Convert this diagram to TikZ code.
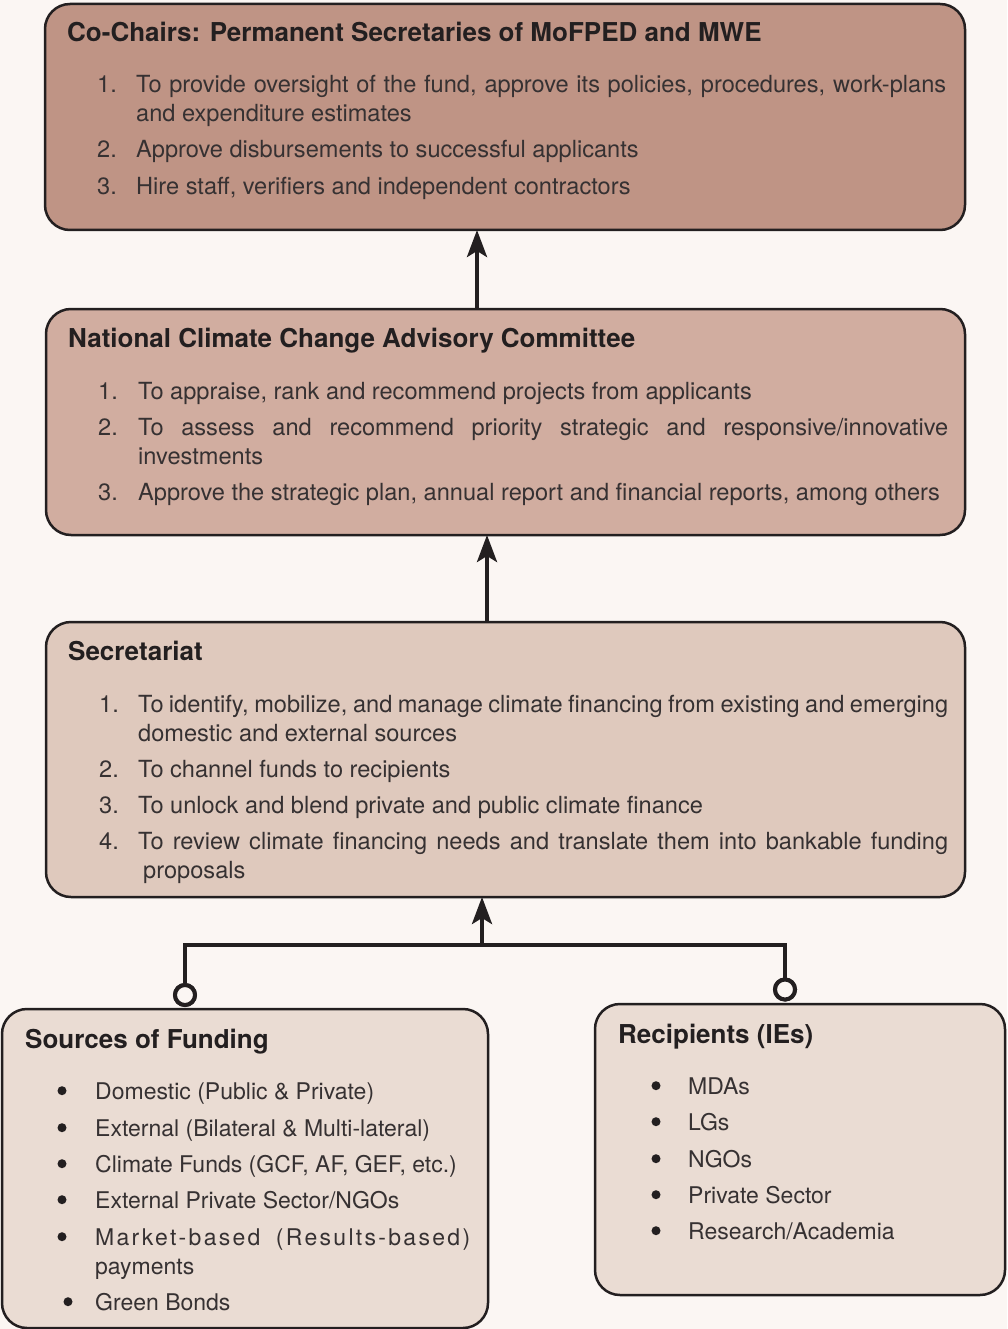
\documentclass[tikz,border=0pt]{standalone}
\usepackage{fontspec}
\setmainfont{TeX Gyre Heros}
\usetikzlibrary{arrows.meta}
\definecolor{bgc}{HTML}{FBF6F3}
\definecolor{fa}{HTML}{BF9485}
\definecolor{fb}{HTML}{D1ADA0}
\definecolor{fc}{HTML}{DFC9BD}
\definecolor{fd}{HTML}{EADCD3}
\definecolor{ink}{HTML}{231F20}
\definecolor{txt}{HTML}{363132}
\newcommand\bodyfont{\fontsize{23.6}{29}\selectfont}
\newcommand\smallbodyfont{\fontsize{23}{29}\selectfont}
\newcommand\headfont{\fontsize{26}{30}\selectfont\bfseries}
\tikzset{
 box/.style={draw=ink, line width=2.5pt, rounded corners=25pt, anchor=north west, inner sep=0pt, outer sep=0pt},
 head/.style={anchor=base west, inner sep=0pt, font=\headfont, text=ink},
 body/.style={anchor=base west, inner sep=0pt, font=\bodyfont, text=txt},
 lbody/.style={anchor=base west, inner sep=0pt, font=\smallbodyfont, text=txt},
 bul/.style={circle, fill=ink, minimum size=9pt, inner sep=0pt},
 arr/.style={draw=ink, line width=4pt, -{Stealth[length=27pt,width=20pt,inset=6pt]}},
 conn/.style={draw=ink, line width=4.5pt},
 circ/.style={circle, draw=ink, line width=4pt, fill=bgc, minimum size=20pt, inner sep=0pt},
}
\begin{document}
\begin{tikzpicture}[x=1pt,y=-1pt]
\fill[bgc] (0,0) rectangle (1007,1329);
\useasboundingbox (0,0) rectangle (1007,1329);
% boxes
\node[box, fill=fa, minimum width=920pt, minimum height=226pt] (b1) at (45,4) {};
\node[box, fill=fb, minimum width=919pt, minimum height=226pt] (b2) at (46,309) {};
\node[box, fill=fc, minimum width=919pt, minimum height=275pt] (b3) at (46,622) {};
\node[box, fill=fd, minimum width=486pt, minimum height=319pt] (b4) at (2,1009) {};
\node[box, fill=fd, minimum width=410pt, minimum height=291pt] (b5) at (595,1004) {};
% connectors
\coordinate (a1) at (477,0);
\coordinate (a2) at (487,0);
\coordinate (j) at (482,945);
\draw[arr] (b2.north -| a1) -- (b1.south -| a1);
\draw[arr] (b3.north -| a2) -- (b2.south -| a2);
\node[circ] (o1) at (185,995) {};
\node[circ] (o2) at (785,989.5) {};
\draw[conn] (o1.north) |- (j) -| (o2.north);
\draw[arr] (j) -- (j |- b3.south);
\node[circ] at (o1) {};
\node[circ] at (o2) {};
% box 1
\node[head] (h1) at (67,42) {Co-Chairs: Permanent Secretaries of MoFPED and MWE};
\node[body] (n11) at (97,93) {1.};
\node[body] (t11) at (136,93) {\parbox[t]{810pt}{To provide oversight of the fund, approve its policies, procedures, work-plans\linebreak and expenditure estimates}};
\node[body] (n12) at (97,158) {2.};
\node[body] (t12) at (136,158) {Approve disbursements to successful applicants};
\node[body] (n13) at (97,195) {3.};
\node[body] (t13) at (136,195) {Hire staff, verifiers and independent contractors};
% box 2
\node[head] (h2) at (68,347) {National Climate Change Advisory Committee};
\node[body] (n21) at (98,399) {1.};
\node[body] (t21) at (138,399) {To appraise, rank and recommend projects from applicants};
\node[body] (n22) at (98,435) {2.};
\node[body] (t22) at (138,435) {\parbox[t]{810pt}{To assess and recommend priority strategic and responsive/innovative\linebreak investments}};
\node[body] (n23) at (98,500) {3.};
\node[body] (t23) at (138,500) {Approve the strategic plan, annual report and financial reports, among others};
% box 3
\node[head] (h3) at (68,660) {Secretariat};
\node[body] (n31) at (99,712) {1.};
\node[body] (t31) at (138,712) {\parbox[t]{810pt}{To identify, mobilize, and manage climate financing from existing and emerging\linebreak domestic and external sources}};
\node[body] (n32) at (99,777) {2.};
\node[body] (t32) at (138,777) {To channel funds to recipients};
\node[body] (n33) at (99,813) {3.};
\node[body] (t33) at (138,813) {To unlock and blend private and public climate finance};
\node[body] (n34) at (99,849) {4.};
\node[body] (t34) at (138,849) {\parbox[t]{810pt}{To review climate financing needs and translate them into bankable funding\linebreak \hspace*{5pt}proposals}};
% box 4
\node[head] (h4) at (25,1048) {Sources of Funding};
\node[bul] (d41) at (62,1090.7) {};
\node[lbody] (t41) at (95,1099) {Domestic (Public \& Private)};
\node[bul] (d42) at (62,1127.7) {};
\node[lbody] (t42) at (95,1136) {External (Bilateral \& Multi-lateral)};
\node[bul] (d43) at (62,1163.7) {};
\node[lbody] (t43) at (95,1172) {Climate Funds (GCF, AF, GEF, etc.)};
\node[bul] (d44) at (62,1199.7) {};
\node[lbody] (t44) at (95,1208) {External Private Sector/NGOs};
\node[bul] (d45) at (62,1236.7) {};
\node[lbody] (t45) at (95,1245) {\parbox[t]{375pt}{{\addfontfeature{LetterSpace=10}Market-based\hfill(Results-based)}\\payments}};
\node[bul] (d46) at (68,1301.7) {};
\node[lbody] (t46) at (95,1310) {Green Bonds};
% box 5
\node[head] (h5) at (618,1043) {Recipients (IEs)};
\node[bul] (d51) at (656,1085.7) {};
\node[lbody] (t51) at (688,1094) {MDAs};
\node[bul] (d52) at (656,1121.7) {};
\node[lbody] (t52) at (688,1130) {LGs};
\node[bul] (d53) at (656,1158.7) {};
\node[lbody] (t53) at (688,1167) {NGOs};
\node[bul] (d54) at (656,1194.7) {};
\node[lbody] (t54) at (688,1203) {Private Sector};
\node[bul] (d55) at (656,1230.7) {};
\node[lbody] (t55) at (688,1239) {Research/Academia};
\end{tikzpicture}
\end{document}
